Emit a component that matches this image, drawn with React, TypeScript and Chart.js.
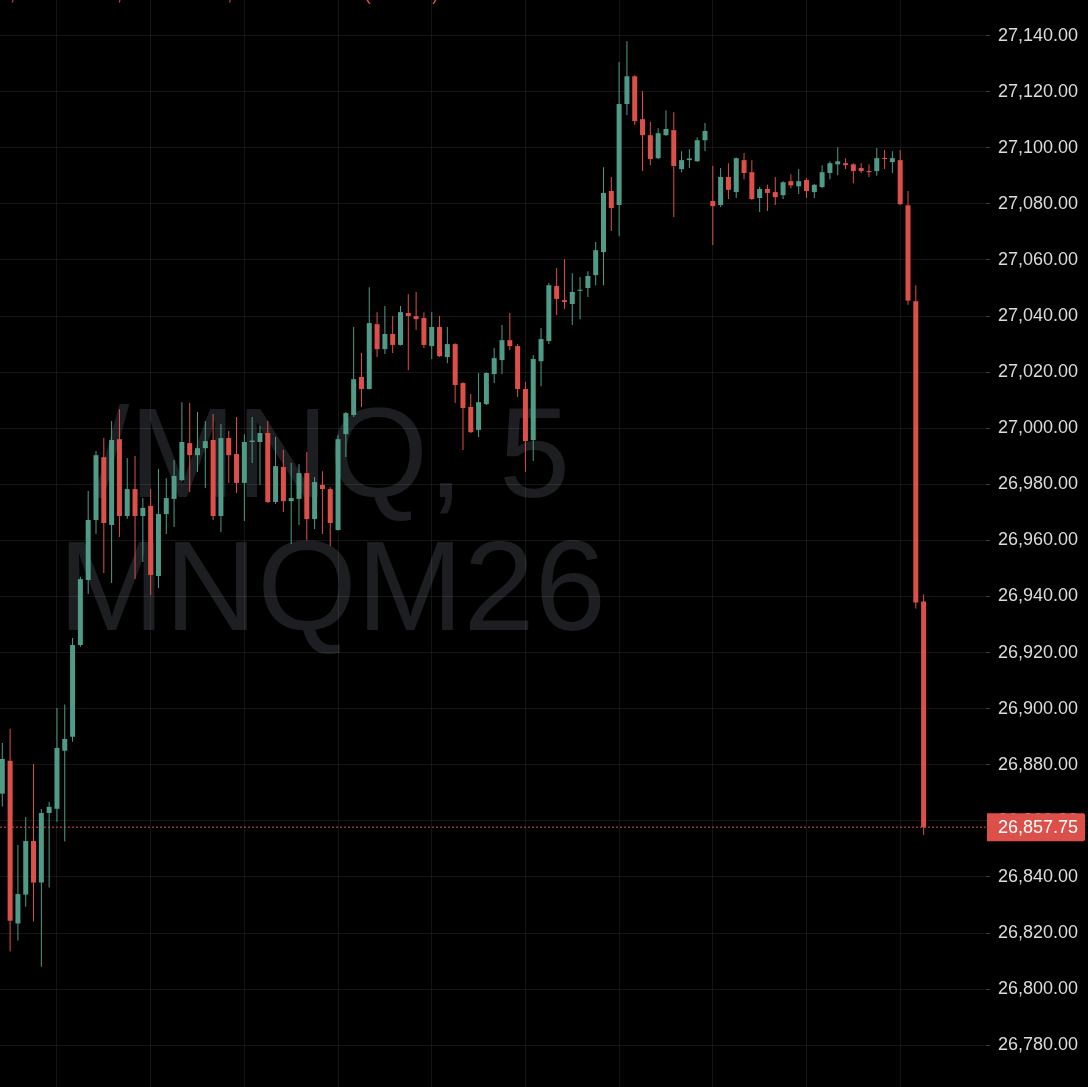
import React, { useEffect, useRef } from "react";
import { Chart, registerables } from "chart.js";

Chart.register(...registerables);

// ---- data (5-minute candles, index 0..118) ----
const opens = [
  26869.7, 26881.4, 26823.4, 26833.7, 26852.8, 26838.0, 26862.8, 26864.3, 26885.0, 26890.0,
  26922.7, 26945.9, 26967.3, 26989.7, 26965.5, 26996.1, 26968.7, 26978.3, 26968.7, 26972.3,
  26947.3, 26969.4, 26974.8, 26981.5, 26994.7, 26990.4, 26992.9, 26995.8, 26968.7, 26996.5,
  26990.8, 26980.5, 26995.1, 26995.1, 26998.3, 26973.7, 26986.2, 26974.0, 26974.8, 26984.0,
  26967.6, 26979.8, 26978.3, 26963.7, 26997.9, 27004.7, 27018.3, 27014.0, 27037.1, 27028.2,
  27033.6, 27029.7, 27041.1, 27040.0, 27039.3, 27029.3, 27036.1, 27025.4, 27030.0, 27016.1,
  27007.6, 26999.4, 27008.6, 27019.3, 27024.3, 27031.4, 27029.3, 27014.0, 26995.8, 27023.9,
  27031.1, 27050.7, 27045.7, 27044.3, 27049.0, 27050.0, 27054.6, 27062.8, 27084.6, 27079.6,
  27115.6, 27125.5, 27110.2, 27104.5, 27096.3, 27104.5, 27106.3, 27092.4, 27095.6, 27095.2,
  27102.7, 27081.0, 27079.6, 27089.6, 27084.2, 27095.6, 27091.3, 27082.1, 27085.3, 27084.2,
  27083.1, 27088.1, 27086.3, 27088.5, 27084.2, 27086.0, 27091.0, 27094.1, 27094.5, 27094.1,
  27092.8, 27091.7, 27091.7, 27096.3, 27094.9, 27095.6, 27079.5, 27045.3, 26938.25,
];
const highs = [
  26887.8, 26892.8, 26851.4, 26861.4, 26880.3, 26864.2, 26866.7, 26900.2, 26901.5, 26925.2,
  26947.0, 26977.6, 26991.9, 26996.5, 27002.6, 27006.8, 26989.4, 26990.1, 26975.1, 26978.3,
  26985.5, 26982.2, 26988.7, 27009.3, 27009.0, 27005.8, 27002.6, 27005.1, 27001.5, 26999.0,
  27004.0, 26997.9, 27004.0, 27000.8, 27002.6, 26996.9, 26992.2, 26987.6, 26987.2, 26991.5,
  26982.6, 26984.7, 26979.0, 26997.5, 27005.8, 27036.1, 27026.8, 27050.3, 27041.4, 27043.6,
  27040.0, 27043.6, 27047.8, 27048.6, 27041.4, 27041.4, 27040.0, 27036.1, 27030.3, 27016.4,
  27012.2, 27019.7, 27020.0, 27028.6, 27036.8, 27041.1, 27030.0, 27016.5, 27026.1, 27035.7,
  27051.8, 27057.1, 27060.3, 27055.3, 27053.9, 27056.0, 27066.4, 27093.1, 27089.6, 27130.6,
  27138.0, 27125.9, 27120.2, 27109.2, 27107.0, 27113.4, 27112.7, 27098.8, 27099.5, 27103.8,
  27108.8, 27093.5, 27092.8, 27094.5, 27096.5, 27098.1, 27095.6, 27086.1, 27086.8, 27089.6,
  27088.1, 27090.6, 27092.4, 27089.2, 27087.1, 27093.8, 27095.2, 27100.2, 27096.3, 27094.5,
  27094.5, 27094.1, 27099.9, 27099.2, 27098.8, 27099.2, 27084.6, 27051.0, 26940.75,
];
const lows = [
  26865.1, 26813.4, 26817.3, 26829.4, 26824.1, 26808.0, 26836.2, 26859.7, 26852.6, 26888.2,
  26922.1, 26940.9, 26962.3, 26948.4, 26944.8, 26961.2, 26967.6, 26946.2, 26952.3, 26940.5,
  26943.0, 26962.3, 26964.8, 26981.2, 26977.3, 26984.4, 26978.7, 26967.3, 26963.0, 26980.5,
  26976.9, 26966.9, 26987.6, 26979.8, 26973.3, 26973.0, 26970.1, 26958.7, 26965.5, 26960.1,
  26964.1, 26962.3, 26958.0, 26963.5, 26989.7, 27004.0, 27007.6, 27013.8, 27025.4, 27026.5,
  27026.8, 27029.5, 27020.7, 27035.0, 27028.6, 27024.7, 27025.4, 27023.2, 27009.0, 26992.2,
  26998.3, 26996.9, 27008.3, 27016.1, 27019.3, 27027.9, 27011.1, 26984.4, 26988.3, 27015.0,
  27030.0, 27040.4, 27042.5, 27036.8, 27038.9, 27046.8, 27051.0, 27051.0, 27070.3, 27068.5,
  27111.6, 27108.1, 27091.7, 27093.8, 27096.0, 27104.3, 27075.3, 27091.3, 27092.8, 27095.0,
  27098.8, 27065.3, 27078.9, 27081.7, 27082.1, 27088.8, 27081.5, 27077.1, 27077.5, 27079.6,
  27081.7, 27085.6, 27083.5, 27082.1, 27082.1, 27085.6, 27088.8, 27090.2, 27092.4, 27087.4,
  27091.0, 27089.6, 27090.0, 27092.4, 27091.0, 27079.6, 27044.0, 26935.7, 26855.0,
];
const closes = [
  26882.1, 26824.4, 26833.9, 26852.8, 26838.0, 26862.8, 26865.0, 26886.0, 26889.2, 26922.7,
  26946.2, 26967.3, 26990.4, 26966.2, 26995.8, 26968.7, 26978.3, 26968.7, 26971.6, 26947.7,
  26969.4, 26975.1, 26983.0, 26995.1, 26990.4, 26992.9, 26995.4, 26968.7, 26996.5, 26990.4,
  26980.5, 26995.1, 26995.6, 26998.3, 26973.7, 26986.5, 26974.0, 26975.1, 26984.0, 26967.6,
  26980.8, 26978.3, 26966.2, 26996.1, 27005.4, 27017.5, 27014.0, 27037.5, 27028.2, 27033.6,
  27029.7, 27041.4, 27040.0, 27038.9, 27029.7, 27036.1, 27025.7, 27030.0, 27015.4, 27007.2,
  26998.6, 27009.3, 27019.7, 27025.0, 27031.4, 27029.3, 27014.0, 26995.4, 27024.7, 27031.8,
  27051.0, 27046.1, 27045.0, 27048.6, 27049.4, 27054.3, 27063.5, 27083.9, 27078.5, 27115.6,
  27125.5, 27109.5, 27104.5, 27096.0, 27105.2, 27106.7, 27093.5, 27095.6, 27096.2, 27102.7,
  27106.0, 27079.2, 27089.6, 27085.0, 27096.3, 27091.0, 27081.7, 27085.3, 27083.9, 27082.4,
  27087.7, 27086.6, 27088.1, 27084.6, 27086.8, 27091.3, 27094.5, 27095.2, 27093.8, 27091.7,
  27091.7, 27091.3, 27096.3, 27096.0, 27096.3, 27079.9, 27045.5, 26937.9, 26857.75,
];

// price scale tick labels
const yTicks = [
  26780, 26800, 26820, 26840, 26860, 26880, 26900, 26920, 26940, 26960,
  26980, 27000, 27020, 27040, 27060, 27080, 27100, 27120, 27140,
];
// candle indexes where the hourly vertical grid lines fall
const hourCandles = [7, 19, 31, 43, 55, 67, 79, 91, 103, 115];
const watermarkLines = ["/MNQ, 5", "MNQM26"];

// visible ranges of the pane
const X_MIN = -0.295;
const X_MAX = 125.99;
const Y_MIN = 26765.1;
const Y_MAX = 27152.7;

const UP = "#4f9b87";
const DOWN = "#dd5049";
const GRID = "rgba(255,255,255,0.08)";
const AXIS_TEXT = "#dcdcdc";
const FONT = "'Liberation Sans', Arial, sans-serif";

export default function App() {
  const ref = useRef<HTMLCanvasElement>(null);

  useEffect(() => {
    document.body.style.margin = "0";
    document.body.style.background = "#000";
    const canvas = ref.current;
    if (!canvas) return;

    const n = closes.length;
    const colors = closes.map((c, i) => (c >= opens[i] ? UP : DOWN));
    const last = closes[n - 1];
    const lastColor = colors[n - 1];
    const fmt = (v: number) =>
      Number(v).toLocaleString("en-US", { minimumFractionDigits: 2, maximumFractionDigits: 2 });

    const change = last - closes[n - 2];
    const pct = (change / closes[n - 2]) * 100;
    const sign = change < 0 ? "\u2212" : "+";
    const legendItems = [
      `H${fmt(highs[n - 1])}`,
      `L${fmt(lows[n - 1])}`,
      `C${fmt(last)}`,
      `${sign}${fmt(Math.abs(change))} (${sign}${Math.abs(pct).toFixed(2)}%)`,
    ];

    const backdrop = {
      id: "backdrop",
      beforeDraw(chart: any) {
        const { ctx, width, height } = chart;
        ctx.save();
        ctx.fillStyle = "#000";
        ctx.fillRect(0, 0, width, height);
        // watermark
        ctx.fillStyle = "#1d1e22";
        ctx.font = `128px ${FONT}`;
        ctx.textAlign = "center";
        ctx.textBaseline = "alphabetic";
        ctx.fillText(watermarkLines[0], 332, 497);
        ctx.fillText(watermarkLines[1], 332, 630);
        ctx.restore();
      },
    };

    const overlay = {
      id: "overlay",
      afterDraw(chart: any) {
        const { ctx, chartArea } = chart;
        // legend row (sits above the visible pane; only descenders show)
        ctx.save();
        ctx.fillStyle = lastColor;
        ctx.font = `18px ${FONT}`;
        ctx.textAlign = "left";
        ctx.textBaseline = "alphabetic";
        let lx = -23;
        for (const item of legendItems) {
          ctx.fillText(item, lx, -0.5);
          lx += ctx.measureText(item).width + 17;
        }
        ctx.restore();

        // last price label
        const y = chart.scales.y.getPixelForValue(last);
        const x0 = chartArea.right + 1;
        ctx.save();
        ctx.fillStyle = lastColor;
        const w = 98;
        const h = 28;
        const r = 2;
        ctx.beginPath();
        ctx.moveTo(x0, y - h / 2);
        ctx.lineTo(x0 + w - r, y - h / 2);
        ctx.quadraticCurveTo(x0 + w, y - h / 2, x0 + w, y - h / 2 + r);
        ctx.lineTo(x0 + w, y + h / 2 - r);
        ctx.quadraticCurveTo(x0 + w, y + h / 2, x0 + w - r, y + h / 2);
        ctx.lineTo(x0, y + h / 2);
        ctx.closePath();
        ctx.fill();
        ctx.fillStyle = "#ffffff";
        ctx.font = `18px ${FONT}`;
        ctx.textAlign = "left";
        ctx.textBaseline = "middle";
        ctx.fillText(fmt(last), chartArea.right + 12, y + 1);
        ctx.restore();
      },
    };

    const idx = closes.map((_, i) => i);
    const chart = new Chart(canvas, {
      type: "bar",
      data: {
        datasets: [
          {
            label: "wicks",
            data: idx.map((i) => ({ x: i, y: [lows[i], highs[i]] })) as any,
            backgroundColor: colors,
            barThickness: 1,
            minBarLength: 1,
            grouped: false,
            borderWidth: 0,
            inflateAmount: 0,
            order: 3,
          } as any,
          {
            label: "bodies",
            data: idx.map((i) => ({ x: i, y: [opens[i], closes[i]] })) as any,
            backgroundColor: colors,
            barThickness: 5,
            minBarLength: 1,
            grouped: false,
            borderWidth: 0,
            inflateAmount: 0,
            order: 2,
          } as any,
          {
            type: "line",
            label: "last",
            data: [
              { x: X_MIN, y: last },
              { x: X_MAX, y: last },
            ],
            borderColor: lastColor,
            borderWidth: 1,
            borderDash: [2, 2],
            pointRadius: 0,
            order: 1,
          } as any,
        ],
      },
      options: {
        responsive: false,
        animation: false,
        devicePixelRatio: 1,
        layout: { padding: 0 },
        plugins: { legend: { display: false }, tooltip: { enabled: false } },
        scales: {
          x: {
            type: "linear",
            min: X_MIN,
            max: X_MAX,
            offset: false,
            afterBuildTicks: (s: any) => {
              s.ticks = hourCandles.map((v) => ({ value: v }));
            },
            afterFit: (s: any) => {
              s.height = 0;
              s.paddingLeft = 0;
              s.paddingRight = 0;
            },
            grid: { color: GRID, drawTicks: false, offset: false },
            border: { display: false },
            ticks: { display: false },
          },
          y: {
            type: "linear",
            position: "right",
            min: Y_MIN,
            max: Y_MAX,
            afterBuildTicks: (s: any) => {
              s.ticks = yTicks.map((v) => ({ value: v }));
            },
            afterFit: (s: any) => {
              s.width = 102;
              s.paddingTop = 0;
              s.paddingBottom = 0;
            },
            grid: { color: GRID, drawTicks: true, tickLength: 4, tickColor: "#3c3c3c" },
            border: { display: false },
            ticks: {
              color: AXIS_TEXT,
              padding: 8,
              autoSkip: false,
              font: { family: FONT, size: 18 },
              callback: (v: any) => fmt(Number(v)),
            },
          },
        },
      } as any,
      plugins: [backdrop, overlay],
    });

    return () => chart.destroy();
  }, []);

  return (
    <div style={{ position: "fixed", left: 0, top: 0, width: 1088, height: 1087, background: "#000" }}>
      <canvas ref={ref} width={1088} height={1087} style={{ display: "block" }} />
    </div>
  );
}
